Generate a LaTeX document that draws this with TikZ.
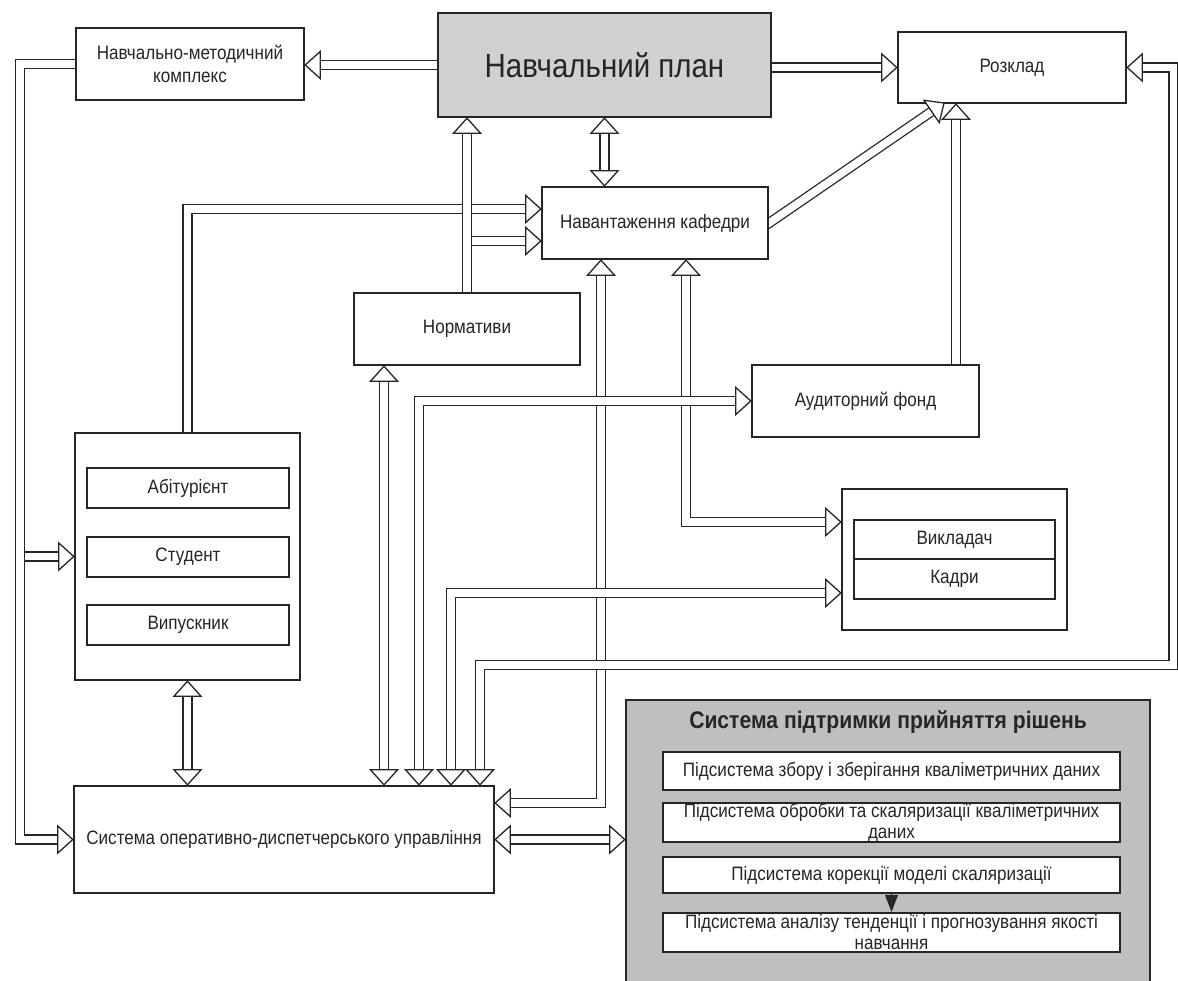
\documentclass[tikz,border=0pt]{standalone}
\usepackage{fontspec}
\setmainfont{Liberation Sans}[FakeStretch=0.88]
\usetikzlibrary{arrows.meta,calc}
\pgfdeclarelayer{background}
\pgfsetlayers{background,main}
\definecolor{ink}{gray}{0.15}
\definecolor{planfill}{gray}{0.82}
\definecolor{spprfill}{gray}{0.75}
\tikzset{
  box/.style={draw=ink, line width=2.4pt, fill=white, rectangle, inner sep=0pt, text=ink,
    font=\fontsize{19.4}{23}\selectfont, align=center},
  subbox/.style={box, minimum width=457pt},
  subtext/.style={text=ink, inner sep=0pt, align=center, font=\fontsize{19.4}{21}\selectfont},
  pipe/.style={draw=ink, double=white, double distance=7.6pt, line width=1.3pt, line join=miter},
  hd/.pic={\draw[draw=ink, fill=white, line width=1.3pt, line join=miter] (0,0) -- (-15,13.5) -- (-15,-13.5) -- cycle;},
}
\begin{document}
\begin{tikzpicture}[x=1pt,y=-1pt]
\useasboundingbox (0,0) rectangle (1178,981);
\clip (0,0) rectangle (1178,981);
\begin{pgfonlayer}{background}
\fill[white] (0,0) rectangle (1178,981);
\end{pgfonlayer}

% ---- boxes
\node[box, minimum width=228pt, minimum height=72pt] (nmk) at (190,64) {Навчально-методичний\\комплекс};
\node[box, fill=planfill, minimum width=333pt, minimum height=104pt, font=\fontsize{33.5}{38}\selectfont] (plan) at (604.5,65) {Навчальний план};
\node[box, minimum width=228pt, minimum height=71pt] (rozk) at (1012,67.5) {Розклад};
\node[box, minimum width=226pt, minimum height=72pt] (navkaf) at (655,223) {Навантаження кафедри};
\node[box, minimum width=226pt, minimum height=72pt] (norm) at (467,329) {Нормативи};
\node[box, minimum width=227pt, minimum height=72pt] (aud) at (865.5,401) {Аудиторний фонд};

\node[box, minimum width=225pt, minimum height=247pt] (stud) at (187.5,556.5) {};
\node[box, minimum width=202pt, minimum height=40pt] (abit) at (188,488) {Абітурієнт};
\node[box, minimum width=202pt, minimum height=40pt] (studn) at (188,557) {Студент};
\node[box, minimum width=202pt, minimum height=40pt] (vyp) at (188,625) {Випускник};

\node[box, minimum width=225pt, minimum height=141pt] (vykl) at (954.5,559.5) {};
\node[box, minimum width=201pt, minimum height=39pt] (vkld) at (954.5,539.5) {Викладач};
\node[box, minimum width=201pt, minimum height=40pt] (kadry) at (954.5,579) {Кадри};

\node[box, minimum width=420pt, minimum height=107pt] (odu) at (284,839.5) {Система оперативно-диспетчерського управління};

\node[box, fill=spprfill, minimum width=524pt, minimum height=300pt] (sppr) at (888,850) {};
\node[text=ink, font=\bfseries\fontsize{24}{28}\selectfont, inner sep=0pt] (spprt) at (888,722) {Система підтримки прийняття рішень};
\node[subbox, minimum height=38pt] (b1) at (891.5,771) {};
\node[subbox, minimum height=39pt] (b2) at (891.5,822.5) {};
\node[subbox, minimum height=36pt] (b3) at (891.5,875) {};
\node[subbox, minimum height=39pt] (b4) at (891.5,932.5) {};
\node[subtext] (b1t) at (b1.center) {Підсистема збору і зберігання кваліметричних даних};
\node[subtext] (b2t) at (b2.center) {Підсистема обробки та скаляризації кваліметричних\\даних};
\node[subtext] (b3t) at (b3.center) {Підсистема корекції моделі скаляризації};
\node[subtext] (b4t) at (b4.center) {Підсистема аналізу тенденції і прогнозування якості\\навчання};
\draw[ink, line width=0.6pt, -{Triangle[length=17pt,width=13pt]}] (b3.south) -- (b4.north);

% ---- routing points
\coordinate (lbx) at (20,0);
\coordinate (rb) at (1173.5,665);
\coordinate (rc) at (480,665);
\coordinate (d1) at (601,803);
\coordinate (d2) at (686,522);
\coordinate (d3) at (419,401);
\coordinate (d4) at (451,593);
\coordinate (d5) at (384,0);
\coordinate (d6) at (187.5,209);
\coordinate (d7) at (467,241);
\coordinate (dg) at (944,103);
\coordinate (ax) at (956,0);

% ---- diagonal starts inside the box (hidden by its fill)
\begin{pgfonlayer}{background}
\draw[pipe, shorten >=14pt] ($(navkaf.east)!-20pt!(dg)$) -- (dg);
\end{pgfonlayer}

% ---- branches (drawn first)
\draw[pipe, shorten >=14pt] (stud.west -| lbx) -- (stud.west);
\draw[pipe, shorten >=14pt] (d7) -- (d7 -| navkaf.west);

% ---- main connectors
\draw[pipe, shorten >=14pt] (nmk.west) -- (nmk.west -| lbx) -- (odu.west -| lbx) -- (odu.west);
\draw[pipe, shorten >=14pt] (plan.west) -- (plan.west -| nmk.east);
\draw[pipe, shorten >=14pt] (rozk.west -| plan.east) -- (rozk.west);
\draw[pipe, shorten <=14pt, shorten >=14pt] (plan.south) -- (plan.south |- navkaf.north);
\draw[pipe, shorten >=14pt] (aud.north -| ax) -- (ax |- rozk.south);
\draw[pipe, shorten >=14pt] (stud.north) -- (d6) -- (d6 -| navkaf.west);
\draw[pipe, shorten >=14pt] (norm.north) -- (norm.north |- plan.south);
\draw[pipe, shorten <=14pt, shorten >=14pt] (norm.south -| d5) -- (odu.north -| d5);
\draw[pipe, shorten <=14pt, shorten >=14pt] (stud.south) -- (stud.south |- odu.north);
\draw[pipe, shorten <=14pt, shorten >=14pt] (navkaf.south -| d1) -- (d1) -- (d1 -| odu.east);
\draw[pipe, shorten <=14pt, shorten >=14pt] (navkaf.south -| d2) -- (d2) -- (d2 -| vykl.west);
\draw[pipe, shorten <=14pt, shorten >=14pt] (odu.north -| d3) -- (d3) -- (aud.west);
\draw[pipe, shorten <=14pt, shorten >=14pt] (odu.north -| d4) -- (d4) -- (d4 -| vykl.west);
\draw[pipe, shorten <=14pt, shorten >=14pt] (rozk.east) -| (rb) -- (rc) -- (rc |- odu.north);
\draw[pipe, shorten <=14pt, shorten >=14pt] (odu.east) -- (odu.east -| sppr.west);

% ---- arrow heads
\pic at (stud.west) {hd};
\pic at (d7 -| navkaf.west) {hd};
\pic at (odu.west) {hd};
\pic[rotate=180] at (plan.west -| nmk.east) {hd};
\pic at (rozk.west) {hd};
\pic[rotate=90] at (plan.south) {hd};
\pic[rotate=-90] at (plan.south |- navkaf.north) {hd};
\pic[rotate=34.4] at (dg) {hd};
\pic[rotate=90] at (ax |- rozk.south) {hd};
\pic[rotate=90] at (norm.north |- plan.south) {hd};
\pic at (d6 -| navkaf.west) {hd};
\pic[rotate=90] at (norm.south -| d5) {hd};
\pic[rotate=-90] at (odu.north -| d5) {hd};
\pic[rotate=90] at (stud.south) {hd};
\pic[rotate=-90] at (stud.south |- odu.north) {hd};
\pic[rotate=90] at (navkaf.south -| d1) {hd};
\pic[rotate=180] at (d1 -| odu.east) {hd};
\pic[rotate=90] at (navkaf.south -| d2) {hd};
\pic at (d2 -| vykl.west) {hd};
\pic[rotate=-90] at (odu.north -| d3) {hd};
\pic at (aud.west) {hd};
\pic[rotate=-90] at (odu.north -| d4) {hd};
\pic at (d4 -| vykl.west) {hd};
\pic[rotate=180] at (rozk.east) {hd};
\pic[rotate=-90] at (rc |- odu.north) {hd};
\pic[rotate=180] at (odu.east) {hd};
\pic at (odu.east -| sppr.west) {hd};
\end{tikzpicture}
\end{document}
